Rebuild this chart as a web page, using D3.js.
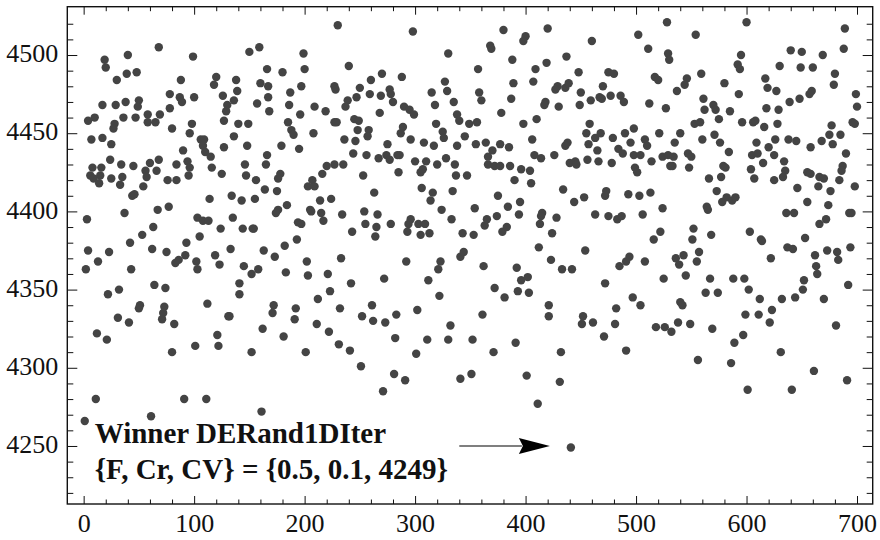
<!DOCTYPE html>
<html>
<head>
<meta charset="utf-8">
<script src="https://cdn.jsdelivr.net/npm/d3@7"></script>
<style>
  body { margin: 0; background: #fff; }
  svg text { font-family: "Liberation Serif", "Times New Roman", serif; fill: #111; }
</style>
</head>
<body>
<svg id="chart" width="880" height="540"></svg>
<script>
// [iteration, cost value], left block first
const samples = [
  // iterations 0-170, upper band
  [68,4505],[159,4505],[150,4502],[40,4500],[99,4499],[19,4497],[20,4492],[166,4491],[48,4489],[39,4488],
  [30,4484],[88,4484],[120,4486],[118,4481],[138,4484],[160,4482],[167,4480],[139,4477],[78,4475],[126,4474],
  [87,4473],[89,4470],[100,4473],[167,4473],[136,4471],[50,4471],[38,4470],[49,4467],[17,4468],[29,4468],
  [130,4468],[157,4469],[78,4466],[129,4464],[168,4464],[58,4462],[69,4462],[36,4460],[47,4460],[10,4460],
  [4,4458],[58,4457],[65,4457],[28,4456],[27,4453],[80,4453],[98,4456],[127,4458],[140,4456],[149,4456],
  [96,4450],[136,4448],[7,4446],[17,4447],[25,4443],[106,4446],[109,4446],[108,4442],[127,4441],[148,4442],
  [90,4439],[110,4438],[115,4435],[166,4436],[24,4433],[68,4433],[60,4431],[94,4432],[34,4430],[45,4429],
  [84,4430],[8,4428],[16,4428],[96,4428],[116,4428],[146,4430],[165,4430],[56,4426],[66,4426],[95,4423],
  [125,4424],[6,4423],[15,4423],[25,4421],[35,4422],[57,4422],[76,4420],[84,4420],[147,4423],[156,4420],
  // iterations 170-350, upper band
  [230,4519],[298,4515],[199,4501],[330,4501],[240,4493],[180,4489],[200,4491],[270,4488],[260,4484],[288,4486],
  [327,4483],[187,4476],[197,4480],[227,4480],[228,4478],[250,4479],[277,4478],[315,4476],[329,4477],[247,4473],
  [259,4475],[269,4474],[278,4475],[280,4470],[239,4471],[237,4467],[186,4468],[209,4467],[219,4464],[290,4467],
  [295,4465],[299,4462],[318,4468],[335,4470],[196,4462],[268,4463],[338,4462],[340,4458],[245,4459],[249,4458],
  [227,4457],[229,4457],[185,4457],[319,4456],[349,4456],[289,4454],[287,4450],[188,4452],[190,4449],[208,4450],
  [248,4452],[258,4452],[257,4448],[325,4451],[326,4447],[236,4446],[246,4445],[296,4446],[345,4448],[179,4442],
  [195,4440],[275,4443],[308,4444],[317,4442],[338,4442],[244,4437],[256,4436],[267,4434],[274,4436],[277,4433],
  [284,4436],[286,4436],[328,4434],[220,4429],[227,4430],[235,4430],[300,4432],[310,4432],[320,4430],[336,4430],
  [216,4424],[178,4424],[176,4421],[207,4420],[253,4423],[285,4425],[305,4425],[307,4427],[337,4423],[347,4423],
  // iterations 350-530, upper band
  [528,4521],[420,4517],[380,4516],[400,4512],[398,4509],[502,4513],[460,4509],[368,4506],[369,4504],[511,4504],
  [388,4497],[437,4499],[529,4501],[530,4497],[357,4491],[409,4491],[419,4495],[448,4489],[475,4489],[480,4488],
  [389,4482],[407,4483],[517,4486],[520,4484],[429,4480],[427,4478],[436,4479],[439,4482],[470,4480],[450,4476],
  [358,4476],[360,4471],[387,4472],[459,4471],[467,4473],[469,4472],[477,4474],[486,4474],[489,4470],[418,4470],
  [417,4468],[430,4467],[449,4468],[512,4469],[527,4466],[378,4463],[410,4459],[398,4456],[356,4457],[458,4456],
  [498,4453],[455,4450],[463,4447],[468,4450],[490,4450],[521,4450],[406,4446],[479,4447],[355,4443],[364,4444],
  [377,4443],[385,4441],[370,4439],[438,4444],[436,4442],[457,4443],[465,4439],[495,4444],[508,4446],[510,4442],
  [484,4440],[488,4437],[498,4436],[504,4436],[514,4432],[524,4435],[529,4436],[366,4435],[366,4430],[372,4429],
  [377,4429],[386,4429],[396,4427],[404,4426],[408,4436],[414,4434],[426,4436],[440,4431],[445,4432],[446,4430],
  [456,4433],[466,4432],[478,4431],[499,4428],[501,4425],[390,4420],[531,4429],
  // iterations 530-700, upper band
  [600,4521],[554,4513],[689,4517],[595,4500],[640,4503],[650,4502],[669,4500],[688,4504],[592,4494],[594,4491],
  [630,4493],[649,4492],[660,4492],[559,4488],[680,4488],[546,4485],[544,4481],[580,4482],[617,4485],[619,4479],
  [627,4477],[679,4481],[537,4477],[593,4475],[657,4475],[659,4477],[699,4475],[561,4472],[562,4465],[570,4468],
  [572,4465],[585,4464],[618,4466],[629,4465],[639,4470],[648,4472],[700,4467],[575,4459],[553,4456],[558,4457],
  [596,4457],[606,4457],[608,4458],[616,4454],[628,4456],[677,4455],[696,4457],[698,4456],[540,4450],[571,4449],
  [576,4444],[560,4446],[535,4444],[609,4444],[626,4446],[638,4446],[645,4445],[658,4441],[668,4445],[675,4449],
  [678,4443],[685,4449],[620,4441],[584,4438],[534,4435],[547,4437],[550,4435],[605,4436],[610,4437],[625,4436],
  [690,4437],[533,4429],[548,4428],[579,4429],[581,4428],[604,4427],[615,4431],[634,4432],[635,4426],[655,4425],
  [658,4424],[687,4429],[686,4426],[566,4421],[577,4422],[607,4421],[625,4420],[633,4422],[666,4422],[670,4421],
  [684,4420],
  // iterations 0-170, middle band
  [9,4421],[14,4418],[33,4417],[54,4416],[164,4414],[44,4410],[46,4411],[114,4408],[134,4410],[143,4407],
  [155,4408],[37,4399],[67,4401],[77,4403],[3,4395],[103,4396],[108,4394],[113,4394],[135,4396],[124,4389],
  [144,4389],[153,4389],[154,4389],[63,4390],[53,4385],[42,4380],[93,4380],[105,4384],[4,4375],[23,4374],
  [62,4376],[75,4374],[92,4372],[83,4367],[86,4369],[102,4368],[103,4363],[119,4372],[123,4366],[133,4376],
  [163,4375],[13,4368],[2,4363],[43,4363],[145,4365],[152,4360],[158,4363],[141,4354],[141,4347],[64,4353],
  [74,4351],[22,4347],[32,4350],[112,4341],[51,4340],[50,4338],[73,4339],[72,4335],[71,4331],[31,4332],
  [41,4329],[82,4328],[131,4333],[132,4333],[12,4322],[21,4318],[121,4321],[162,4325],
  // iterations 170-350, middle band
  [203,4416],[209,4416],[175,4413],[263,4412],[306,4415],[316,4412],[314,4407],[334,4413],[214,4407],[224,4408],
  [184,4404],[176,4401],[174,4399],[205,4401],[206,4400],[215,4399],[234,4398],[254,4400],[266,4398],[324,4401],
  [194,4393],[197,4392],[217,4394],[255,4392],[265,4390],[264,4384],[278,4392],[296,4395],[294,4392],[293,4387],
  [303,4392],[309,4392],[305,4385],[313,4386],[333,4395],[343,4386],[243,4387],[193,4382],[182,4378],[173,4371],
  [202,4368],[233,4370],[292,4368],[323,4368],[341,4371],[344,4374],[183,4361],[203,4359],[221,4360],[242,4354],
  [272,4357],[312,4356],[321,4363],[223,4349],[212,4344],[322,4346],[172,4340],[171,4335],[192,4338],[191,4331],
  [232,4338],[261,4340],[252,4333],[262,4330],[273,4329],[283,4334],[302,4337],[211,4328],[222,4323],[181,4320],
  [282,4319],[332,4327],[311,4318],[330,4318],
  // iterations 350-530, middle band
  [405,4418],[434,4414],[473,4413],[472,4410],[444,4406],[453,4409],[493,4411],[503,4410],[513,4412],[375,4410],
  [395,4406],[384,4403],[354,4402],[394,4398],[374,4397],[415,4399],[414,4397],[413,4392],[428,4396],[463,4398],
  [475,4397],[483,4395],[487,4397],[506,4398],[524,4402],[363,4391],[365,4395],[379,4387],[383,4390],[353,4385],
  [424,4386],[522,4387],[516,4382],[412,4377],[454,4375],[362,4365],[392,4364],[423,4369],[433,4363],[442,4363],
  [485,4365],[491,4368],[494,4371],[508,4368],[525,4357],[396,4356],[402,4358],[393,4349],[403,4348],[372,4351],
  [381,4345],[472,4354],[497,4345],[504,4340],[421,4340],[421,4333],[482,4338],[361,4334],[452,4333],[451,4328],
  [461,4329],[481,4328],[518,4326],[526,4326],[471,4320],[352,4318],
  // iterations 530-700, middle band
  [698,4416],[646,4415],[665,4416],[676,4413],[573,4413],[578,4406],[582,4409],[587,4407],[590,4409],[655,4406],
  [674,4404],[564,4403],[565,4401],[636,4399],[643,4399],[693,4399],[695,4399],[672,4395],[666,4392],[552,4389],
  [568,4385],[603,4387],[613,4382],[614,4381],[551,4382],[653,4383],[557,4374],[543,4372],[536,4370],[539,4366],
  [555,4368],[637,4377],[642,4376],[622,4370],[662,4372],[673,4375],[682,4374],[683,4369],[694,4377],[663,4365],
  [664,4360],[545,4359],[567,4357],[588,4357],[598,4357],[652,4356],[602,4350],[563,4348],[574,4348],[651,4350],
  [692,4353],[540,4342],[542,4340],[612,4344],[632,4344],[644,4345],[670,4344],[623,4337],[599,4334],[611,4334],
  [538,4329],[549,4328],[532,4323],[569,4325],[621,4329],[681,4327],[597,4321],
  // lower band
  [80,4310],[101,4314],[122,4314],[152,4310],[11,4280],[91,4280],[111,4280],[161,4272],[1,4266],[61,4269],
  [201,4310],[231,4315],[241,4311],[251,4301],[271,4285],[281,4296],[291,4292],[301,4309],[341,4293],[351,4296],
  [371,4310],[391,4316],[401,4295],[411,4277],[432,4310],[431,4291],[441,4249],
  [491,4311],[556,4305],[586,4303],[589,4316],[601,4286],[631,4310],[641,4286],[661,4298],[691,4292]
];

const xTicks = [0, 100, 200, 300, 400, 500, 600, 700];
const yTicks = [4250, 4300, 4350, 4400, 4450, 4500];
const noteLines = ['Winner DERand1DIter', '{F, Cr, CV} = {0.5, 0.1, 4249}'];
const noteAt = [10, 4251.7];        // where the note text starts
const arrowFrom = [340, 4250];
const arrowTo = [422, 4250];

const svg = d3.select('#chart');

const x = d3.scaleLinear()
    .domain([-14.8, 714.2])
    .range([67.3, 872.7]);

const y = d3.scaleLinear()
    .domain([4212.9, 4530.9])
    .range([504, 6.7]);

const [x0, x1] = x.range();
const [y0, y1] = y.range();

const xMinor = d3.range(20, 700, 20).filter(d => d % 100 !== 0);
const yMinor = d3.range(4220, 4530, 10).filter(d => d % 50 !== 0);

// points first, frame on top
svg.append('g')
    .selectAll('circle')
    .data(samples)
    .join('circle')
    .attr('cx', d => x(d[0]))
    .attr('cy', d => y(d[1]))
    .attr('r', 4.2)
    .attr('fill', '#444');

function styleAxis(g) {
    g.select('.domain').remove();
    g.selectAll('line').attr('stroke', '#111').attr('stroke-width', 1);
    g.selectAll('text')
        .attr('font-family', '"Liberation Serif", "Times New Roman", serif')
        .attr('font-size', 26)
        .attr('fill', '#111');
}

// bottom
svg.append('g')
    .attr('transform', `translate(0,${y0})`)
    .call(d3.axisBottom(x).tickValues(xTicks).tickSize(-8).tickPadding(9.5).tickFormat(d3.format('d')))
    .call(styleAxis);
svg.append('g')
    .attr('transform', `translate(0,${y0})`)
    .call(d3.axisBottom(x).tickValues(xMinor).tickSize(-4.5).tickFormat(''))
    .call(styleAxis);

// top
svg.append('g')
    .attr('transform', `translate(0,${y1})`)
    .call(d3.axisTop(x).tickValues(xTicks).tickSize(-8).tickFormat(''))
    .call(styleAxis);
svg.append('g')
    .attr('transform', `translate(0,${y1})`)
    .call(d3.axisTop(x).tickValues(xMinor).tickSize(-4.5).tickFormat(''))
    .call(styleAxis);

// left
svg.append('g')
    .attr('transform', `translate(${x0},0)`)
    .call(d3.axisLeft(y).tickValues(yTicks).tickSize(-10).tickPadding(9).tickFormat(d3.format('d')))
    .call(styleAxis)
    .selectAll('text').attr('dy', '0.26em');
svg.append('g')
    .attr('transform', `translate(${x0},0)`)
    .call(d3.axisLeft(y).tickValues(yMinor).tickSize(-6).tickFormat(''))
    .call(styleAxis);

// right
svg.append('g')
    .attr('transform', `translate(${x1},0)`)
    .call(d3.axisRight(y).tickValues(yTicks).tickSize(-10).tickFormat(''))
    .call(styleAxis);
svg.append('g')
    .attr('transform', `translate(${x1},0)`)
    .call(d3.axisRight(y).tickValues(yMinor).tickSize(-6).tickFormat(''))
    .call(styleAxis);

// frame
svg.append('rect')
    .attr('x', x0)
    .attr('y', y1)
    .attr('width', x1 - x0)
    .attr('height', y0 - y1)
    .attr('fill', 'none')
    .attr('stroke', '#111')
    .attr('stroke-width', 1.4);

// winner note
svg.append('text')
    .attr('x', x(noteAt[0]))
    .attr('y', y(noteAt[1]))
    .attr('font-size', 29)
    .attr('font-weight', 'bold')
    .selectAll('tspan')
    .data(noteLines)
    .join('tspan')
    .attr('x', x(noteAt[0]))
    .attr('dy', (d, i) => i === 0 ? 0 : 36)
    .text(d => d);

// arrow pointing at the winner
const ax = x(arrowFrom[0]), bx = x(arrowTo[0]), ay = y(arrowFrom[1]);
const headLen = 31, headHalf = 8;
svg.append('line')
    .attr('x1', ax)
    .attr('x2', bx - headLen + 3)
    .attr('y1', ay)
    .attr('y2', ay)
    .attr('stroke', '#000')
    .attr('stroke-width', 1.2);
svg.append('path')
    .attr('d', `M${bx},${ay} L${bx - headLen},${ay - headHalf} L${bx - headLen + 4},${ay} L${bx - headLen},${ay + headHalf} Z`)
    .attr('fill', '#000');
</script>
</body>
</html>
